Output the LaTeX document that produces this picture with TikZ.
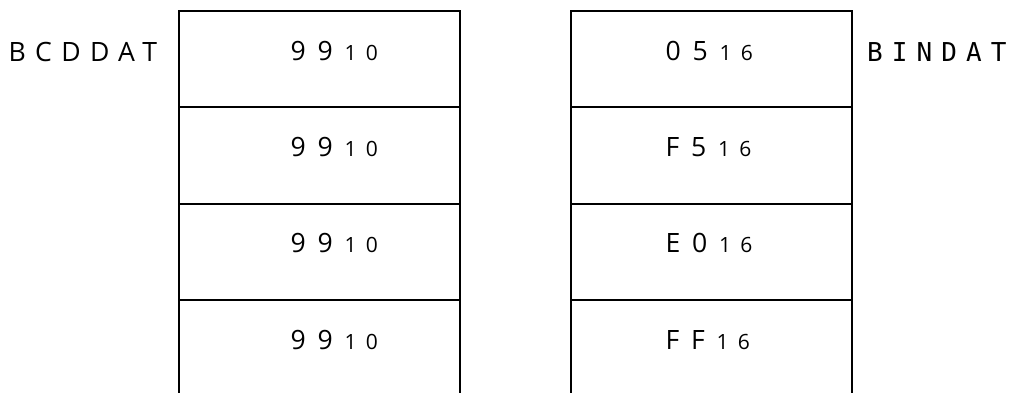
\documentclass[tikz,border=0pt]{standalone}
\usepackage{fontspec}
\setmainfont{Open Sans}[LetterSpace=44]
\newfontfamily\lblfont{Open Sans}[LetterSpace=35]
\newfontfamily\binfont{DejaVu Sans Mono}[LetterSpace=35]
\newcommand{\bigsz}{\fontsize{26.6}{30}\selectfont}
\newcommand{\subsz}[1]{\hspace{11.7pt}{\fontsize{21}{24}\selectfont #1}}
\begin{document}
\begin{tikzpicture}[x=1pt,y=-1pt,
  cellbox/.style={draw=black,line width=2pt,minimum width=281pt,minimum height=96.3pt,inner sep=0pt,outer sep=0pt},
  valtext/.style={anchor=base west,inner sep=0pt,font=\bigsz},
  tagtext/.style={anchor=base west,inner sep=0pt}]
\useasboundingbox (0,0) rectangle (1021,392);
\clip (0,0) rectangle (1021,392);
% left column
\node[cellbox] (l1) at (319.5,59.15) {};
\node[cellbox,anchor=north] (l2) at (l1.south) {};
\node[cellbox,anchor=north] (l3) at (l2.south) {};
\node[cellbox,anchor=north] (l4) at (l3.south) {};
% right column
\node[cellbox] (r1) at (711,59.15) {};
\node[cellbox,anchor=north] (r2) at (r1.south) {};
\node[cellbox,anchor=north] (r3) at (r2.south) {};
\node[cellbox,anchor=north] (r4) at (r3.south) {};
% values
\foreach \i/\yy in {1/60.7,2/156.5,3/252.8,4/349.1}{
  \node[valtext] (lv\i) at (290.5,\yy) {99\subsz{10}};
}
\node[valtext] (rv1) at (665.5,60.7) {05\subsz{16}};
\node[valtext] (rv2) at (665.5,156.5) {F5\subsz{16}};
\node[valtext] (rv3) at (665.5,252.8) {E0\subsz{16}};
\node[valtext] (rv4) at (665.5,349.1) {FF\subsz{16}};
% names
\node[tagtext,font=\lblfont\bigsz] (bcd) at (8.5,61.5) {BCDDAT};
\node[tagtext,font=\binfont\fontsize{26}{30}\selectfont] (bin) at (867,61.5) {BINDAT};
\end{tikzpicture}
\end{document}
